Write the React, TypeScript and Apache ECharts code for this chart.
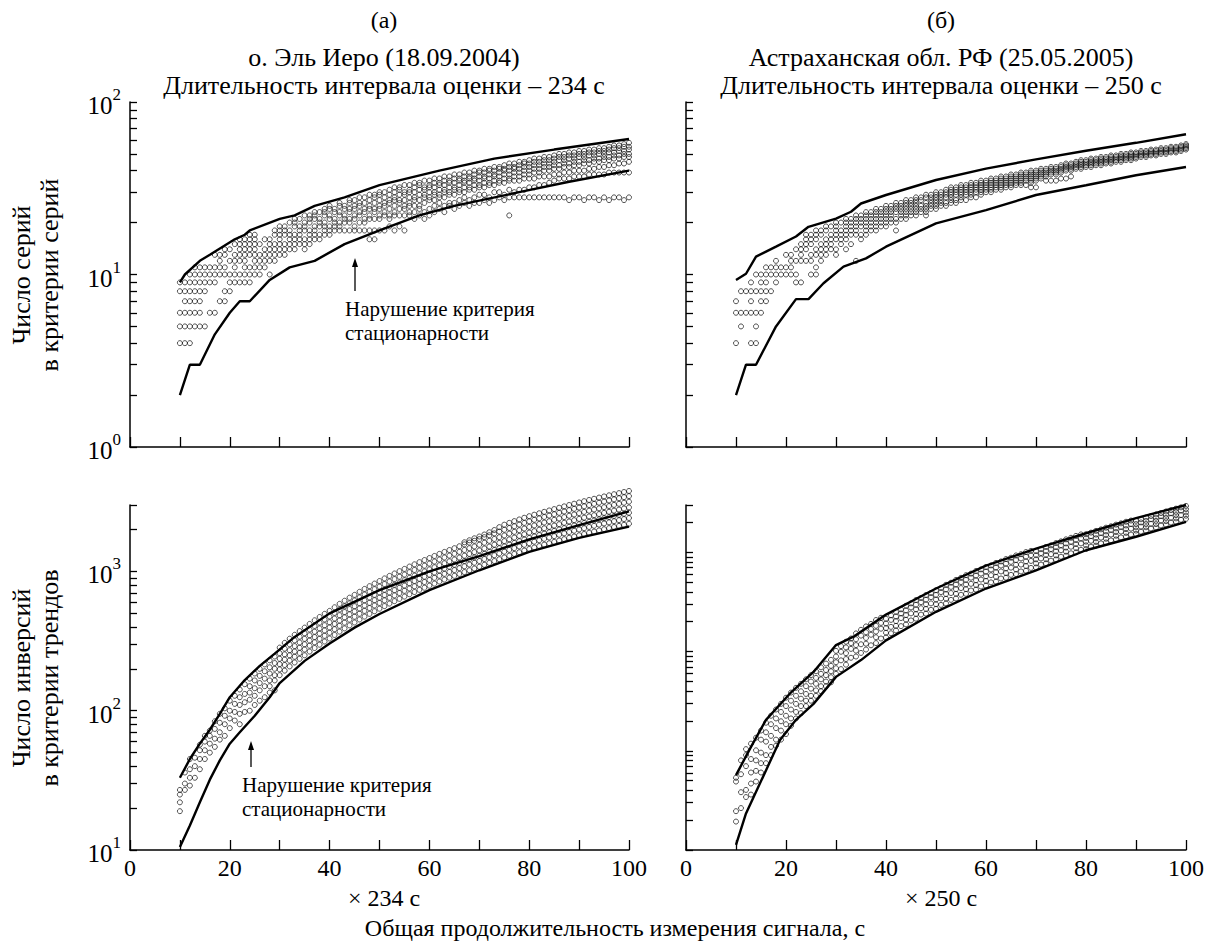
import React, { useEffect, useRef } from 'react';
import * as echarts from 'echarts';

const SERIF = 'Liberation Serif, DejaVu Serif, serif';
const INK = '#000';

// ---------- axis ticks ----------
const ticksTop = [1, 2, 3, 4, 5, 6, 7, 8, 9, 10, 20, 30, 40, 50, 60, 70, 80, 90, 100];
const labelsTop = [1, 10, 100];
const ticksBottomLeft = [10, 20, 30, 40, 50, 60, 70, 80, 90, 100, 200, 300, 400, 500, 600, 700, 800, 900, 1000, 2000, 3000];
const labelsBottomLeft = [10, 100, 1000];
const ticksBottomRight = [1, 2, 3, 4, 5, 6, 7, 8, 9, 10, 20, 30, 40, 50, 60, 70, 80, 90, 100, 200, 300, 400, 500, 600, 700, 800, 900, 1000, 2000, 3000];

// ---------- (а) runs criterion: envelopes ----------
const runsUpperA = [[10, 9], [11, 10], [14, 12], [16, 13], [21, 16], [23, 17], [24, 18], [30, 21], [33, 22], [37, 25], [43, 28], [50, 33], [62, 40], [73, 47], [85, 53], [100, 61]];
const runsLowerA = [[10, 2], [12, 3], [14, 3], [17, 4.5], [20, 6], [22, 7], [24, 7], [28, 9.3], [32, 11], [37, 12], [43, 15], [50, 18], [58, 22], [65, 25], [78, 30], [88, 34.5], [100, 40]];
// rows: [count, x...]
const runsRowsA = [
  [4, 10, 11, 12],
  [5, 10, 11, 12, 13, 14, 15],
  [6, 10, 11, 12, 13, 14, 16, 17],
  [7, 11, 12, 13, 14, 18, 19],
  [8, 10, 11, 12, 13, 14, 15, 19, 20],
  [9, 10, 11, 12, 13, 14, 15, 16, 17, 20, 21, 22, 23, 24],
  [10, 12, 13, 14, 15, 16, 17, 18, 19, 20, 21, 22, 23, 24, 25],
  [11, 13, 14, 15, 16, 17, 18, 19, 21, 23, 24, 25],
  [12, 18, 20, 21, 22, 23, 25],
  [13, 17, 18, 19, 21, 22, 23, 24, 25],
  [14, 19, 20, 22, 23, 24, 25],
  [15, 21, 22, 23, 24, 25],
  [16, 22, 23, 24, 25],
  [17, 24, 25],
];
// columns: [x, count...]
const runsColsA = [
  [26, 10, 11, 12, 13, 15], [27, 11, 12, 13, 14, 16], [28, 10, 12, 13, 14, 15, 16], [29, 12, 13, 14, 15, 17, 18],
  [30, 13, 14, 15, 16, 17, 18, 19], [31, 13, 14, 15, 17, 18, 19], [32, 14, 15, 16, 17, 18, 20], [33, 14, 15, 16, 17, 19, 20, 21],
  [34, 15, 16, 17, 18, 19, 21], [35, 14, 15, 16, 18, 19, 20, 22], [36, 15, 16, 17, 18, 20, 21, 22], [37, 16, 17, 18, 19, 21, 22, 23],
  [38, 16, 17, 19, 20, 21, 23], [39, 17, 18, 19, 20, 22, 23, 24], [40, 17, 18, 19, 21, 22, 24, 25], [41, 18, 19, 20, 21, 23, 24],
  [42, 18, 19, 20, 22, 23, 25, 26], [43, 18, 20, 21, 22, 24, 25], [44, 18, 20, 21, 23, 24, 26, 27], [45, 18, 19, 21, 22, 24, 25, 27],
  [46, 18, 20, 22, 23, 25, 26, 28], [47, 18, 20, 21, 23, 24, 26, 28], [48, 16, 18, 21, 22, 24, 25, 27, 29], [49, 16, 18, 21, 23, 24, 26, 28, 29],
  [50, 18, 21, 22, 24, 25, 27, 29, 30], [51, 18, 22, 23, 25, 26, 28, 30], [52, 19, 21, 22, 24, 26, 27, 29, 31], [53, 18, 22, 23, 25, 27, 28, 30, 32],
  [54, 19, 22, 24, 26, 27, 29, 31, 32], [55, 18, 22, 24, 25, 27, 29, 30, 33], [56, 22, 23, 25, 26, 28, 30, 31, 33], [57, 21, 23, 25, 27, 28, 30, 32, 34],
  [58, 22, 24, 25, 27, 29, 31, 33, 34], [59, 21, 23, 26, 28, 29, 31, 32, 35], [60, 22, 24, 27, 28, 30, 32, 33, 35], [61, 23, 25, 27, 29, 30, 32, 34, 36],
  [62, 24, 26, 28, 29, 31, 33, 34, 36], [63, 23, 25, 28, 30, 31, 33, 35, 37], [64, 25, 26, 29, 30, 32, 34, 35, 37], [65, 24, 26, 29, 31, 32, 34, 36, 38],
  [66, 25, 27, 30, 31, 33, 35, 36, 38], [67, 26, 28, 30, 32, 34, 35, 37, 39], [68, 25, 27, 31, 32, 34, 36, 37, 39], [69, 26, 28, 31, 33, 35, 36, 38, 40],
  [70, 26, 29, 32, 33, 35, 37, 39, 40], [71, 27, 29, 32, 34, 36, 37, 39, 41], [72, 26, 28, 33, 34, 36, 38, 40, 41], [73, 27, 30, 33, 35, 37, 38, 40, 42],
  [74, 28, 30, 34, 35, 37, 39, 41, 42], [75, 27, 29, 34, 36, 38, 40, 41, 43], [76, 22, 28, 31, 35, 36, 38, 40, 42, 44], [77, 28, 30, 35, 37, 39, 41, 42, 44],
  [78, 28, 31, 35, 37, 39, 41, 43, 45], [79, 28, 31, 36, 38, 40, 42, 44, 45], [80, 28, 32, 36, 38, 40, 42, 44, 46], [81, 28, 32, 36, 39, 41, 43, 45, 47],
  [82, 28, 33, 37, 39, 41, 43, 45, 47], [83, 28, 33, 37, 40, 42, 44, 46, 48], [84, 28, 34, 37, 40, 42, 44, 46, 48], [85, 28, 35, 38, 41, 43, 45, 47, 49],
  [86, 28, 36, 38, 41, 43, 46, 48, 50], [87, 28, 36, 39, 42, 44, 46, 48, 50], [88, 27, 36, 39, 42, 44, 47, 49, 51], [89, 28, 37, 40, 43, 45, 47, 49, 51],
  [90, 28, 37, 40, 43, 45, 48, 50, 52], [91, 27, 37, 40, 44, 46, 48, 50, 52], [92, 28, 38, 41, 44, 46, 49, 51, 53], [93, 28, 38, 41, 45, 47, 49, 51, 53],
  [94, 27, 38, 42, 45, 47, 50, 52, 54], [95, 28, 38, 42, 46, 48, 50, 52, 54], [96, 27, 39, 43, 46, 48, 51, 53, 55], [97, 28, 39, 43, 47, 49, 51, 54, 56],
  [98, 28, 39, 44, 47, 49, 52, 54, 56], [99, 27, 39, 44, 48, 50, 52, 55, 57], [100, 28, 39, 45, 48, 50, 53, 55, 58],
];

// ---------- (б) runs criterion ----------
const runsUpperB = [[10, 9.3], [12, 10.1], [14, 12.7], [18, 14.5], [22, 16.6], [24.5, 18.9], [30, 21.1], [33, 23.1], [35, 25.8], [40, 28.9], [50, 35.3], [60, 41.1], [70, 46.5], [80, 52.2], [90, 58], [100, 65]];
const runsLowerB = [[10, 2], [12, 3], [14, 3], [18, 5], [22, 7.2], [24.5, 7.2], [27.5, 8.9], [31.5, 11.1], [36, 12.4], [40, 14.5], [50, 19.8], [60, 23.6], [70, 28.9], [80, 32.9], [90, 37.6], [100, 42]];
const runsRowsB = [
  [4, 10, 13, 14],
  [5, 11, 14],
  [6, 10, 11, 12, 13, 14, 15],
  [7, 10, 13, 15, 16],
  [8, 11, 12, 13, 14, 15, 16, 17],
  [9, 13, 15, 16, 18, 22, 23],
  [10, 14, 15, 16, 17, 18, 19, 20, 21, 22],
  [11, 16, 17, 18, 19, 20, 21],
  [12, 18, 21, 22, 23],
  [13, 20, 21, 23],
  [14, 22, 23],
  [15, 23],
];
const runsColsB = [
  [24, 12, 14, 15, 16, 17], [25, 10, 12, 13, 15, 16, 17], [26, 10, 11, 13, 14, 16, 17, 18], [27, 12, 13, 14, 15, 17, 18],
  [28, 13, 14, 15, 16, 18, 19], [29, 14, 15, 16, 17, 19], [30, 13, 14, 16, 17, 18, 19, 20], [31, 15, 16, 17, 18, 20],
  [32, 14, 16, 17, 18, 19, 20, 21], [33, 15, 17, 18, 19, 20, 21], [34, 12, 17, 18, 19, 20, 21, 22], [35, 16, 17, 19, 20, 21, 22],
  [36, 17, 18, 19, 20, 21, 22, 23], [37, 18, 19, 20, 21, 22, 23], [38, 18, 19, 20, 21, 22, 23, 24], [39, 19, 20, 21, 22, 23, 24],
  [40, 19, 20, 21, 22, 23, 24, 25], [41, 20, 21, 22, 23, 24, 25], [42, 18, 20, 21, 23, 24, 25, 26], [43, 21, 22, 23, 24, 25, 26],
  [44, 21, 22, 23, 24, 25, 26, 27], [45, 22, 23, 24, 25, 26, 27], [46, 22, 23, 24, 25, 26, 27, 28], [47, 23, 24, 25, 27, 28],
  [48, 22, 23, 24, 25, 26, 28, 29], [49, 24, 25, 26, 27, 28, 29], [50, 24, 25, 26, 27, 28, 29, 30], [51, 25, 26, 27, 28, 29, 30],
  [52, 25, 26, 28, 29, 30, 31], [53, 26, 27, 28, 29, 30, 31, 32], [54, 26, 27, 29, 30, 31, 32], [55, 27, 28, 29, 30, 31, 32, 33],
  [56, 27, 29, 30, 31, 32, 33], [57, 28, 29, 30, 31, 32, 33, 34], [58, 28, 30, 31, 32, 33, 34], [59, 29, 30, 31, 32, 33, 34, 35],
  [60, 30, 31, 32, 33, 34, 35], [61, 30, 31, 32, 33, 34, 35, 36], [62, 31, 32, 33, 34, 35, 36], [63, 31, 32, 33, 34, 35, 36, 37],
  [64, 32, 33, 34, 35, 36, 37], [65, 32, 33, 34, 35, 36, 37, 38], [66, 33, 34, 35, 36, 37, 38], [67, 33, 34, 35, 36, 37, 38, 39],
  [68, 33, 35, 36, 37, 38, 39], [69, 32, 34, 35, 36, 37, 38, 39, 40], [70, 32, 35, 36, 37, 38, 39, 40], [71, 36, 37, 38, 39, 40, 41],
  [72, 35, 37, 38, 39, 40, 41], [73, 35, 38, 39, 40, 41, 42], [74, 35, 38, 39, 40, 41, 42], [75, 36, 39, 40, 41, 42, 43],
  [76, 36, 40, 41, 42, 43, 44], [77, 37, 40, 41, 42, 43, 44], [78, 41, 42, 43, 44, 45], [79, 41, 42, 43, 44, 45, 46],
  [80, 42, 43, 44, 45, 46], [81, 42, 43, 44, 45, 46, 47], [82, 43, 44, 45, 46, 47], [83, 43, 44, 45, 46, 47, 48],
  [84, 44, 45, 46, 47, 48], [85, 44, 45, 46, 47, 48, 49], [86, 45, 46, 47, 48, 49], [87, 45, 46, 47, 48, 49, 50],
  [88, 46, 47, 48, 49, 50], [89, 46, 47, 48, 49, 50, 51], [90, 47, 48, 49, 50, 51], [91, 48, 49, 50, 51, 52],
  [92, 48, 49, 50, 51, 52], [93, 49, 50, 51, 52, 53], [94, 49, 50, 51, 52, 53], [95, 50, 51, 52, 53, 54],
  [96, 50, 51, 52, 53, 54], [97, 51, 52, 53, 54, 55], [98, 51, 52, 53, 54, 55], [99, 52, 53, 54, 55, 56], [100, 53, 54, 55, 56, 57],
];

// ---------- (а) trend (inversion) criterion ----------
const trendUpperA = [[10, 33], [12, 45], [14, 58], [16, 73], [18, 95], [20, 125], [23, 166], [26, 210], [29, 257], [33, 339], [40, 500], [50, 735], [60, 1000], [70, 1290], [80, 1700], [90, 2150], [100, 2700]];
const trendLowerA = [[10, 10.5], [12, 15], [14, 22], [16, 32], [18, 44], [20, 58], [22, 70], [25, 92], [28, 125], [30, 158], [35, 228], [40, 304], [45, 395], [50, 495], [60, 735], [70, 1020], [80, 1380], [90, 1740], [100, 2100]];
const trendColsA = [
  [10, 19, 22, 25, 27], [11, 27, 30, 36], [12, 29, 33, 38, 45], [13, 33, 40, 46], [14, 38, 45, 52, 57],
  [15, 45, 52, 60, 66], [16, 50, 58, 66, 72], [17, 55, 63, 74, 84], [18, 62, 70, 82, 95], [19, 66, 80, 92, 104],
  [20, 75, 88, 100, 118], [21, 85, 98, 112, 128], [22, 80, 95, 110, 125, 142], [23, 98, 115, 132, 155], [24, 100, 120, 135, 150, 170],
  [25, 110, 128, 145, 165, 185], [26, 118, 140, 158, 178, 200], [27, 125, 150, 170, 192, 215], [28, 135, 150, 165, 185, 205, 230], [29, 140, 165, 180, 200, 220, 245],
  [30, 180, 198, 216, 236, 259, 284], [31, 194, 213, 233, 254, 279, 307], [32, 208, 229, 250, 272, 300, 329], [33, 222, 244, 266, 291, 320, 351],
  [34, 236, 260, 283, 309, 340, 373], [35, 250, 275, 300, 328, 360, 395], [36, 266, 293, 319, 348, 383, 420], [37, 282, 310, 338, 369, 406, 446],
  [38, 298, 328, 358, 390, 429, 471], [39, 314, 345, 377, 411, 452, 496], [40, 330, 363, 396, 432, 475, 521], [41, 350, 385, 420, 459, 504, 553],
  [42, 370, 407, 444, 485, 533, 585], [43, 390, 429, 468, 511, 562, 616], [44, 410, 451, 492, 537, 590, 648], [45, 430, 473, 516, 563, 619, 679],
  [46, 452, 497, 542, 592, 651, 714], [47, 474, 521, 569, 621, 683, 749], [48, 496, 546, 595, 650, 714, 784], [49, 518, 570, 622, 679, 746, 818],
  [50, 540, 594, 648, 707, 778, 853], [51, 564, 620, 677, 739, 812, 891], [52, 588, 647, 706, 770, 847, 929], [53, 612, 673, 734, 802, 881, 967],
  [54, 636, 700, 763, 833, 916, 1005], [55, 660, 726, 792, 865, 950, 1043], [56, 686, 755, 823, 899, 988, 1084], [57, 712, 783, 854, 933, 1025, 1125],
  [58, 738, 812, 886, 967, 1063, 1166], [59, 764, 840, 917, 1001, 1100, 1207], [60, 790, 869, 948, 1035, 1138, 1248], [61, 818, 900, 982, 1072, 1178, 1292],
  [62, 846, 931, 1015, 1108, 1218, 1337], [63, 874, 961, 1049, 1145, 1259, 1381], [64, 902, 992, 1082, 1182, 1299, 1425], [65, 930, 1023, 1116, 1218, 1339, 1469],
  [66, 960, 1056, 1152, 1258, 1382, 1517], [67, 990, 1089, 1188, 1297, 1426, 1564, 1620], [68, 1020, 1122, 1224, 1336, 1469, 1612, 1675], [69, 1050, 1155, 1260, 1376, 1512, 1659, 1730],
  [70, 1080, 1188, 1296, 1415, 1555, 1706, 1782], [71, 1116, 1228, 1339, 1462, 1607, 1763, 1841], [72, 1152, 1267, 1382, 1509, 1659, 1820, 1912], [73, 1188, 1307, 1426, 1556, 1711, 1877, 1984],
  [74, 1224, 1346, 1469, 1603, 1763, 1934, 2081], [75, 1260, 1386, 1512, 1651, 1814, 1991, 2167], [76, 1298, 1428, 1558, 1700, 1869, 2051, 2233], [77, 1336, 1470, 1603, 1750, 1924, 2111, 2298],
  [78, 1374, 1511, 1649, 1800, 1979, 2171, 2363], [79, 1412, 1553, 1694, 1850, 2033, 2231, 2429], [80, 1450, 1595, 1740, 1900, 2088, 2291, 2494], [81, 1486, 1635, 1783, 1947, 2140, 2348, 2556],
  [82, 1522, 1674, 1826, 1994, 2192, 2405, 2618], [83, 1558, 1714, 1870, 2041, 2244, 2462, 2680], [84, 1594, 1753, 1913, 2088, 2295, 2519, 2742], [85, 1630, 1793, 1956, 2135, 2347, 2575, 2804],
  [86, 1668, 1835, 2002, 2185, 2402, 2635, 2869], [87, 1706, 1877, 2047, 2235, 2457, 2695, 2934], [88, 1744, 1918, 2093, 2285, 2511, 2756, 3000], [89, 1782, 1960, 2138, 2334, 2566, 2816, 3065],
  [90, 1820, 2002, 2184, 2384, 2621, 2876, 3130], [91, 1858, 2044, 2230, 2434, 2676, 2936, 3196], [92, 1896, 2086, 2275, 2484, 2730, 2996, 3261], [93, 1934, 2127, 2321, 2534, 2785, 3056, 3326],
  [94, 1972, 2169, 2366, 2583, 2840, 3116, 3392], [95, 2010, 2211, 2412, 2633, 2894, 3176, 3457], [96, 2048, 2253, 2458, 2683, 2949, 3236, 3523], [97, 2086, 2295, 2503, 2733, 3004, 3296, 3588],
  [98, 2124, 2336, 2549, 2782, 3059, 3356, 3653], [99, 2162, 2378, 2594, 2832, 3113, 3416, 3719], [100, 2200, 2420, 2640, 2882, 3168, 3476, 3784],
];

// ---------- (б) trend (inversion) criterion ----------
const trendUpperB = [[10, 34.5], [13, 55], [16, 86], [20.8, 133], [25.5, 190], [30, 296], [33.5, 340], [40, 490], [50, 754], [60, 1100], [70, 1460], [80, 1880], [90, 2414], [100, 3000]];
const trendLowerB = [[10, 10.9], [12, 18.3], [14.8, 30.1], [18.8, 61.6], [22, 86], [25.5, 112], [30, 175], [35, 231], [40, 320], [50, 513], [60, 754], [70, 1017], [80, 1420], [90, 1775], [100, 2270]];
const trendColsB = [
  [10, 16, 19, 31, 33], [11, 20, 26, 35, 44], [12, 24, 27, 40, 48, 53], [13, 25, 30, 36, 45, 58], [14, 31, 37, 44, 52, 64],
  [15, 36, 42, 50, 62, 72], [16, 42, 48, 60, 70, 82], [17, 48, 55, 66, 80, 92], [18, 56, 62, 75, 88, 102], [19, 62, 72, 84, 98, 112],
  [20, 68, 80, 92, 108, 124], [21, 78, 88, 102, 118, 135], [22, 88, 98, 112, 128, 146], [23, 96, 108, 122, 138, 156], [24, 108, 118, 132, 150, 168],
  [25, 118, 128, 144, 162, 180], [26, 128, 140, 156, 172, 192], [27, 138, 150, 168, 184, 205], [28, 150, 162, 180, 196, 218], [29, 160, 174, 192, 210, 232],
  [30, 184, 202, 223, 245, 269], [31, 199, 230, 265, 291], [32, 214, 235, 259, 285, 313], [33, 240, 278, 306, 330],
  [34, 245, 270, 296, 326, 359], [35, 260, 300, 346, 381], [36, 275, 303, 333, 366, 403], [37, 295, 351, 386, 420],
  [38, 306, 337, 370, 407, 448], [39, 330, 388, 427, 465], [40, 336, 363, 392, 423, 457], [41, 360, 400, 449, 484],
  [42, 377, 407, 440, 475, 513], [43, 405, 463, 500, 535], [44, 417, 450, 486, 525, 567], [45, 445, 500, 552, 590],
  [46, 458, 495, 534, 577, 623], [47, 490, 545, 602, 645], [48, 498, 538, 581, 627, 677], [49, 530, 590, 654, 700],
  [50, 539, 582, 628, 679, 733], [51, 575, 640, 711, 760], [52, 590, 637, 688, 743, 802], [53, 625, 700, 775, 830],
  [54, 640, 691, 746, 806, 870], [55, 680, 760, 839, 900], [56, 691, 746, 806, 871, 940], [57, 730, 815, 902, 965],
  [58, 741, 800, 864, 934, 1008], [59, 780, 875, 966, 1035], [60, 792, 855, 923, 998, 1077], [61, 835, 940, 1033, 1105],
  [62, 847, 915, 988, 1067, 1152], [63, 890, 1000, 1103, 1180], [64, 902, 974, 1052, 1137, 1227], [65, 945, 1065, 1172, 1255],
  [66, 958, 1035, 1117, 1207, 1303], [67, 1000, 1120, 1241, 1330], [68, 1013, 1094, 1181, 1276, 1378], [69, 1060, 1190, 1310, 1405],
  [70, 1068, 1143, 1223, 1308, 1400], [71, 1120, 1240, 1355, 1445], [72, 1144, 1224, 1310, 1401, 1500], [73, 1195, 1330, 1448, 1540],
  [74, 1220, 1305, 1397, 1495, 1599], [75, 1275, 1420, 1542, 1645], [76, 1297, 1388, 1485, 1589, 1700], [77, 1350, 1505, 1635, 1745],
  [78, 1373, 1469, 1572, 1682, 1800], [79, 1430, 1590, 1728, 1845], [80, 1449, 1540, 1637, 1740, 1850], [81, 1505, 1660, 1791, 1900],
  [82, 1532, 1629, 1731, 1840, 1956], [83, 1590, 1750, 1890, 2005], [84, 1615, 1717, 1825, 1940, 2062], [85, 1670, 1840, 1990, 2110],
  [86, 1698, 1805, 1919, 2039, 2168], [87, 1755, 1935, 2090, 2215], [88, 1781, 1893, 2013, 2139, 2274], [89, 1840, 2030, 2189, 2320],
  [90, 1864, 1967, 2075, 2188, 2310], [91, 1930, 2100, 2249, 2370], [92, 1968, 2076, 2190, 2310, 2438], [93, 2035, 2200, 2371, 2500],
  [94, 2072, 2186, 2306, 2433, 2567], [95, 2140, 2320, 2494, 2625], [96, 2176, 2296, 2422, 2555, 2696], [97, 2245, 2430, 2616, 2755],
  [98, 2280, 2405, 2538, 2677, 2825], [99, 2350, 2540, 2738, 2885], [100, 2384, 2515, 2653, 2799, 2954],
];

// ---------- helpers to expand the compact tables into [x, y] points ----------
const fromRows = (rows: number[][]) => rows.flatMap(([y, ...xs]) => xs.map((x) => [x, y]));
const fromCols = (cols: number[][]) => cols.flatMap(([x, ...ys]) => ys.map((y) => [x, y]));

const axisLine = { show: true, onZero: false, lineStyle: { color: INK, width: 1.5 } };

function xAxis(gridIndex: number, labels: boolean) {
  return {
    type: 'value', gridIndex, min: 0, max: 100, interval: 10,
    axisLine,
    axisTick: { show: true, inside: true, length: 10, lineStyle: { color: INK, width: 1.3 } },
    axisLabel: {
      show: labels, margin: 6, color: INK, fontFamily: SERIF, fontSize: 24,
      formatter: (v: number) => (v % 20 === 0 ? String(v) : ''),
    },
    splitLine: { show: false },
  };
}

function yAxis(gridIndex: number, min: number, max: number, ticks: number[], labels: number[] | null, show = true) {
  return {
    type: 'log', logBase: 10, gridIndex, min, max, show,
    axisLine,
    axisTick: { show: true, inside: true, length: 7, customValues: ticks, lineStyle: { color: INK, width: 1.3 } },
    axisLabel: labels
      ? {
          show: true, customValues: labels, margin: 9,
          formatter: (v: number) => `{b|10}{e|${Math.round(Math.log10(v))}}`,
          rich: {
            b: { fontFamily: SERIF, fontSize: 25, color: INK, lineHeight: 32, verticalAlign: 'bottom' },
            e: { fontFamily: SERIF, fontSize: 17, color: INK, lineHeight: 17, verticalAlign: 'top' },
          },
        }
      : { show: false },
    splitLine: { show: false },
    minorTick: { show: false },
  };
}

function envelope(data: number[][], xi: number, yi: number) {
  return {
    type: 'line', xAxisIndex: xi, yAxisIndex: yi, data, symbol: 'none', showSymbol: false,
    lineStyle: { color: INK, width: 2.4 }, z: 3, clip: false, silent: true,
  };
}

function dots(data: number[][], xi: number, yi: number) {
  return {
    type: 'scatter', xAxisIndex: xi, yAxisIndex: yi, data, symbol: 'circle', symbolSize: 5,
    itemStyle: { color: 'rgba(255,255,255,0)', borderColor: '#111', borderWidth: 0.9 },
    z: 2, clip: false, silent: true,
  };
}

function text(x: number, y: number, str: string, size: number, align = 'center', rotation = 0, lineHeight?: number) {
  return {
    type: 'text', x, y, rotation, silent: true,
    style: { text: str, fill: INK, fontFamily: SERIF, fontSize: size, lineHeight, align, verticalAlign: 'middle' },
  };
}

function arrow(x: number, yTail: number, yHead: number) {
  return [
    { type: 'line', silent: true, shape: { x1: x, y1: yTail, x2: x, y2: yHead + 8 }, style: { stroke: INK, lineWidth: 1.3 } },
    { type: 'polygon', silent: true, shape: { points: [[x - 3, yHead + 9], [x + 3, yHead + 9], [x, yHead]] }, style: { fill: INK } },
  ];
}

const NOTE = 'Нарушение критерия\nстационарности';

const option = {
  animation: false,
  backgroundColor: '#fff',
  grid: [
    { left: 130, top: 102, width: 499, height: 345 },
    { left: 686, top: 102, width: 500, height: 345 },
    { left: 130, top: 505, width: 499, height: 345 },
    { left: 686, top: 505, width: 500, height: 345 },
  ],
  xAxis: [xAxis(0, false), xAxis(1, false), xAxis(2, true), xAxis(3, true)],
  yAxis: [
    yAxis(0, 1, 100, ticksTop, labelsTop),
    yAxis(1, 1, 100, ticksTop, null),
    yAxis(2, 10, 3000, ticksBottomLeft, labelsBottomLeft),
    yAxis(3, 1, 3000, ticksBottomRight, null),
    yAxis(3, 10, 3000, [], null, false),
  ],
  series: [
    dots(fromRows(runsRowsA).concat(fromCols(runsColsA)), 0, 0),
    envelope(runsUpperA, 0, 0),
    envelope(runsLowerA, 0, 0),
    dots(fromRows(runsRowsB).concat(fromCols(runsColsB)), 1, 1),
    envelope(runsUpperB, 1, 1),
    envelope(runsLowerB, 1, 1),
    dots(fromCols(trendColsA), 2, 2),
    envelope(trendUpperA, 2, 2),
    envelope(trendLowerA, 2, 2),
    dots(fromCols(trendColsB), 3, 4),
    envelope(trendUpperB, 3, 4),
    envelope(trendLowerB, 3, 4),
  ],
  graphic: [
    text(384, 20, '(а)', 24),
    text(941, 20, '(б)', 24),
    text(384, 57, 'о. Эль Иеро (18.09.2004)', 26),
    text(384, 85, 'Длительность интервала оценки – 234 с', 26),
    text(941, 57, 'Астраханская обл. РФ (25.05.2005)', 26),
    text(941, 85, 'Длительность интервала оценки – 250 с', 26),
    text(21, 275, 'Число серий', 26, 'center', Math.PI / 2),
    text(49, 275, 'в критерии серий', 26, 'center', Math.PI / 2),
    text(21, 678, 'Число инверсий', 26, 'center', Math.PI / 2),
    text(49, 678, 'в критерии трендов', 26, 'center', Math.PI / 2),
    text(384, 898, '× 234 с', 24),
    text(941, 898, '× 250 с', 24),
    text(615, 928, 'Общая продолжительность измерения сигнала, с', 24),
    text(345, 321, NOTE, 21, 'left', 0, 24),
    text(242, 797, NOTE, 21, 'left', 0, 24),
    ...arrow(355, 291, 258),
    ...arrow(251, 767, 741),
  ],
};

export default function App() {
  const ref = useRef<HTMLDivElement>(null);
  useEffect(() => {
    const chart = echarts.init(ref.current!, null, { renderer: 'svg' });
    chart.setOption(option as any);
    return () => chart.dispose();
  }, []);
  return (
    <div
      ref={ref}
      style={{ position: 'absolute', left: 0, top: 0, width: 1222, height: 943, background: '#fff' }}
    />
  );
}
